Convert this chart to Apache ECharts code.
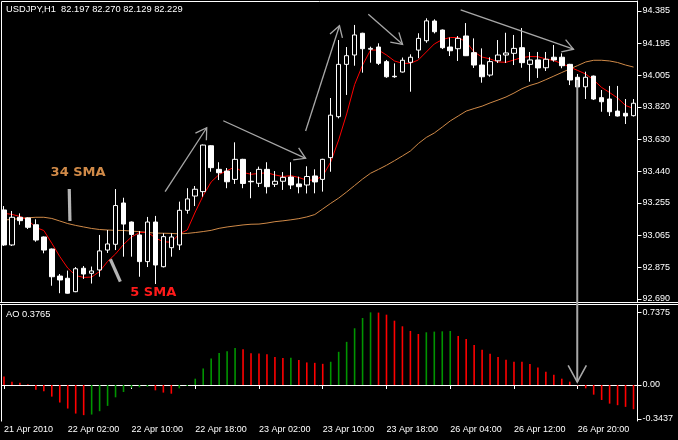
<!DOCTYPE html>
<html><head><meta charset="utf-8">
<script src="https://cdn.jsdelivr.net/npm/echarts@6/dist/echarts.min.js"></script>
<style>html,body{margin:0;padding:0;background:#000;overflow:hidden}#c{width:678px;height:440px}</style>
</head><body><div id="c"></div>
<script>
// ---------- data ----------
const categories = [
'21 Apr 18:00','21 Apr 19:00','21 Apr 20:00','21 Apr 21:00','21 Apr 22:00','21 Apr 23:00',
'22 Apr 00:00','22 Apr 01:00','22 Apr 02:00','22 Apr 03:00','22 Apr 04:00','22 Apr 05:00','22 Apr 06:00','22 Apr 07:00',
'22 Apr 08:00','22 Apr 09:00','22 Apr 10:00','22 Apr 11:00','22 Apr 12:00','22 Apr 13:00','22 Apr 14:00','22 Apr 15:00',
'22 Apr 16:00','22 Apr 17:00','22 Apr 18:00','22 Apr 19:00','22 Apr 20:00','22 Apr 21:00','22 Apr 22:00','22 Apr 23:00',
'23 Apr 00:00','23 Apr 01:00','23 Apr 02:00','23 Apr 03:00','23 Apr 04:00','23 Apr 05:00','23 Apr 06:00','23 Apr 07:00',
'23 Apr 08:00','23 Apr 09:00','23 Apr 10:00','23 Apr 11:00','23 Apr 12:00','23 Apr 13:00','23 Apr 14:00','23 Apr 15:00',
'23 Apr 16:00','23 Apr 17:00','23 Apr 18:00','23 Apr 19:00','23 Apr 20:00','23 Apr 21:00',
'26 Apr 00:00','26 Apr 01:00','26 Apr 02:00','26 Apr 03:00','26 Apr 04:00','26 Apr 05:00','26 Apr 06:00','26 Apr 07:00',
'26 Apr 08:00','26 Apr 09:00','26 Apr 10:00','26 Apr 11:00','26 Apr 12:00','26 Apr 13:00','26 Apr 14:00','26 Apr 15:00',
'26 Apr 16:00','26 Apr 17:00','26 Apr 18:00','26 Apr 19:00','26 Apr 20:00','26 Apr 21:00','26 Apr 22:00','26 Apr 23:00',
'27 Apr 00:00','27 Apr 01:00','27 Apr 02:00','27 Apr 03:00'];
const xTickLabels = ['21 Apr 2010','22 Apr 02:00','22 Apr 10:00','22 Apr 18:00','23 Apr 02:00','23 Apr 10:00','23 Apr 18:00','26 Apr 04:00','26 Apr 12:00','26 Apr 20:00'];
const priceTickLabels = ['94.385','94.195','94.005','93.820','93.630','93.440','93.255','93.065','92.875','92.690'];
const aoTickLabels = ['0.7375','0.00','-0.3437'];
const titleText = 'USDJPY,H1  82.197 82.270 82.129 82.229';
const aoTitle = 'AO 0.3765';

const opens = [93.214,93.008,93.171,93.167,93.127,93.055,92.984,92.825,92.812,92.733,
92.871,92.841,92.861,92.978,93.012,93.255,93.143,93.067,92.910,93.143,
92.880,92.992,93.008,93.212,93.296,93.322,93.592,93.453,93.443,93.394,
93.512,93.383,93.371,93.453,93.365,93.383,93.408,93.367,93.361,93.414,
93.394,93.522,93.763,94.071,94.126,94.254,94.160,94.173,94.087,94.001,
94.026,94.083,94.155,94.210,94.326,94.273,94.173,94.163,94.238,94.140,
94.067,94.008,94.092,94.126,94.136,94.169,94.071,94.097,94.051,94.113,
94.113,94.071,93.995,93.939,94.002,93.875,93.867,93.796,93.783,93.769];
const highs = [93.237,93.208,93.194,93.170,93.159,93.058,92.987,92.837,92.857,92.878,
92.884,92.881,93.067,93.096,93.337,93.286,93.146,93.090,93.173,93.179,
93.077,93.077,93.263,93.342,93.355,93.599,93.595,93.495,93.461,93.612,
93.515,93.437,93.469,93.495,93.443,93.437,93.495,93.410,93.471,93.453,
93.515,93.873,94.214,94.173,94.303,94.257,94.175,94.195,94.097,94.077,
94.111,94.130,94.254,94.342,94.336,94.276,94.229,94.238,94.314,94.224,
94.165,94.113,94.214,94.257,94.244,94.285,94.144,94.144,94.144,94.185,
94.136,94.074,94.014,94.028,94.005,93.920,93.944,93.944,93.867,93.867];
const lows = [93.002,93.002,93.127,93.102,93.027,92.959,92.768,92.724,92.722,92.730,
92.808,92.781,92.821,92.961,92.978,92.939,92.939,92.821,92.878,92.778,
92.876,92.939,92.978,93.192,93.237,93.292,93.439,93.390,93.342,93.367,
93.342,93.283,93.349,93.311,93.349,93.332,93.337,93.312,93.311,93.312,
93.322,93.439,93.753,93.891,94.063,94.022,94.081,94.067,93.992,93.992,
94.023,93.910,94.107,94.198,94.253,94.161,94.120,94.091,94.120,94.050,
93.963,93.998,94.079,94.079,94.067,94.051,93.969,93.991,94.032,94.087,
94.048,93.949,93.910,93.867,93.861,93.792,93.767,93.764,93.720,93.764];
const closes = [93.008,93.171,93.151,93.112,93.037,92.978,92.821,92.802,92.724,92.868,
92.837,92.855,92.973,93.014,93.240,93.131,93.070,92.910,93.143,92.890,
93.057,93.055,93.212,93.279,93.336,93.596,93.463,93.433,93.380,93.512,
93.370,93.380,93.453,93.351,93.383,93.406,93.361,93.351,93.411,93.379,
93.512,93.772,94.071,94.122,94.244,94.163,94.165,94.077,93.998,93.998,
94.095,94.113,94.224,94.327,94.263,94.169,94.151,94.224,94.122,94.067,
93.998,94.087,94.126,94.138,94.165,94.081,94.097,94.050,94.101,94.097,
94.063,93.979,93.938,93.995,93.867,93.851,93.792,93.767,93.767,93.842];
const sma5 = [93.194,93.188,93.176,93.155,93.111,93.093,93.018,92.940,92.872,92.828,
92.817,92.819,92.852,92.911,92.955,93.011,93.055,93.081,93.084,93.049,
93.027,93.024,93.073,93.096,93.202,93.299,93.379,93.423,93.446,93.467,
93.435,93.424,93.429,93.433,93.420,93.411,93.416,93.405,93.389,93.390,
93.414,93.496,93.626,93.779,93.952,94.067,94.155,94.155,94.126,94.091,
94.077,94.077,94.097,94.144,94.191,94.217,94.229,94.229,94.203,94.144,
94.114,94.103,94.085,94.083,94.097,94.111,94.117,94.116,94.103,94.093,
94.076,94.055,94.035,94.014,93.979,93.935,93.905,93.873,93.829,93.811];
const sma34 = [93.155,93.158,93.164,93.168,93.171,93.171,93.164,93.149,93.134,93.123,
93.114,93.105,93.099,93.096,93.094,93.093,93.090,93.086,93.081,93.078,
93.077,93.076,93.073,93.076,93.081,93.087,93.094,93.106,93.114,93.120,
93.126,93.130,93.131,93.137,93.145,93.150,93.156,93.163,93.173,93.187,
93.220,93.253,93.284,93.320,93.358,93.396,93.430,93.453,93.477,93.504,
93.532,93.561,93.605,93.641,93.667,93.702,93.738,93.767,93.796,93.811,
93.825,93.844,93.861,93.879,93.902,93.928,93.947,93.961,93.981,94.002,
94.023,94.044,94.064,94.085,94.095,94.095,94.091,94.082,94.067,94.055];
const ao = [0.087,0.034,0.024,0.007,-0.047,-0.064,-0.118,-0.178,-0.239,-0.290,
-0.306,-0.300,-0.266,-0.212,-0.125,-0.071,-0.027,-0.024,-0.017,-0.054,
-0.077,-0.088,-0.034,-0.010,0.064,0.168,0.270,0.326,0.343,0.3765,
0.364,0.323,0.320,0.313,0.283,0.273,0.276,0.253,0.229,0.225,
0.215,0.236,0.337,0.438,0.576,0.680,0.7375,0.735,0.714,0.653,
0.596,0.549,0.518,0.535,0.542,0.545,0.548,0.498,0.468,0.407,
0.357,0.316,0.283,0.256,0.236,0.235,0.212,0.178,0.135,0.104,
0.064,0.034,-0.005,-0.034,-0.098,-0.152,-0.189,-0.205,-0.222,-0.246];

// annotations in data coordinates: [pane, barIndex, value]
const arrowLines = [
  {from:[0,20.22,93.3215], to:[0,25.44,93.698]},
  {from:[0,27.52,93.739], to:[0,37.85,93.518]},
  {from:[0,37.85,93.679], to:[0,42.10,94.298]},
  {from:[0,45.72,94.366], to:[0,50.02,94.189]},
  {from:[0,57.31,94.391], to:[0,71.47,94.160]},
  {from:[0,71.94,93.979], to:[1,71.94,0.030], big:true}
];
const pointerBars = [
  {from:[0,8.19,93.337], to:[0,8.275,93.149]},
  {from:[0,13.35,92.924], to:[0,14.60,92.792]}
];
const noteLabels = [
  {text:'34 SMA', at:[0,5.85,93.432], color:'#d08a48'},
  {text:'5 SMA', at:[0,15.85,92.728], color:'#ff1a1a'}
];

// ---------- chart ----------
const FONT = '"Liberation Sans", Arial, sans-serif';
const chart = echarts.init(document.getElementById('c'), null, {renderer:'canvas'});
const priceMin = 92.6723, priceMax = 94.4439;
const aoMin = -0.3655, aoMax = 0.8122;
const findLabel = (arr, v) => { let best = arr[0], d = 1e9; arr.forEach(s => { const e = Math.abs(parseFloat(s) - v); if (e < d) { d = e; best = s; } }); return best; };

const option = {
  backgroundColor:'#000',
  animation:false,
  grid:[
    {left:-2.5, top:1, width:640, height:301},
    {left:-2.5, top:305, width:640, height:116}
  ],
  xAxis:[
    {type:'category', gridIndex:0, data:categories, show:false, boundaryGap:true},
    {type:'category', gridIndex:1, data:categories, boundaryGap:true,
     axisLine:{show:true, lineStyle:{color:'#fff', width:1}},
     axisTick:{show:true, interval:7, alignWithLabel:true, length:4, lineStyle:{color:'#fff'}},
     axisLabel:{interval:7, align:'left', margin:4, color:'#fff', fontSize:9, fontFamily:FONT,
       formatter:(v, i) => xTickLabels[Math.round(i/8)] || ''},
     splitLine:{show:false}}
  ],
  yAxis:[
    {type:'value', gridIndex:0, position:'right', min:priceMin, max:priceMax, scale:true,
     axisLine:{show:true, lineStyle:{color:'#fff'}},
     axisTick:{show:true, length:4, lineStyle:{color:'#fff'}, customValues: priceTickLabels.map(parseFloat)},
     axisLabel:{show:true, color:'#fff', fontSize:9, fontFamily:FONT, margin:5,
       customValues: priceTickLabels.map(parseFloat), formatter:v => findLabel(priceTickLabels, v)},
     splitLine:{show:false}},
    {type:'value', gridIndex:1, position:'right', min:aoMin, max:aoMax,
     axisLine:{show:true, lineStyle:{color:'#fff'}},
     axisTick:{show:true, length:4, lineStyle:{color:'#fff'}, customValues: aoTickLabels.map(parseFloat)},
     axisLabel:{show:true, color:'#fff', fontSize:9, fontFamily:FONT, margin:5,
       customValues: aoTickLabels.map(parseFloat), formatter:v => findLabel(aoTickLabels, v)},
     splitLine:{show:false}}
  ],
  series:[
    {type:'line', name:'34 SMA', xAxisIndex:0, yAxisIndex:0, data:sma34, showSymbol:false, symbol:'none',
     lineStyle:{color:'#d08a48', width:1}, z:1, silent:true},
    {type:'line', name:'5 SMA', xAxisIndex:0, yAxisIndex:0, data:sma5, showSymbol:false, symbol:'none',
     lineStyle:{color:'#ff0000', width:1}, z:1, silent:true},
    {type:'candlestick', xAxisIndex:0, yAxisIndex:0, barWidth:5, z:3,
     data: categories.map((_, i) => [opens[i], closes[i], lows[i], highs[i]]),
     itemStyle:{color:'#000', color0:'#fff', borderColor:'#fff', borderColor0:'#fff', borderWidth:1}},
    {type:'bar', xAxisIndex:1, yAxisIndex:1, data:ao, barWidth:1.6, z:3,
     itemStyle:{color: p => (p.dataIndex === 0 || ao[p.dataIndex] < ao[p.dataIndex-1]) ? '#ff0000' : '#009400'}}
  ]
};
chart.setOption(option);

function px(pt) {
  const g = pt[0], idx = pt[1], val = pt[2];
  const i0 = Math.min(Math.floor(idx), categories.length - 2), f = idx - i0;
  const a = chart.convertToPixel({gridIndex:g}, [i0, val]);
  const b = chart.convertToPixel({gridIndex:g}, [i0 + 1, val]);
  return [a[0] + (b[0] - a[0]) * f, a[1]];
}
const gfx = [];
// frames
gfx.push({type:'line', z:200, shape:{x1:1.5,y1:1.5,x2:637.5,y2:1.5}, style:{stroke:'#fff', lineWidth:1}});
gfx.push({type:'line', z:200, shape:{x1:1.5,y1:1.5,x2:1.5,y2:302.5}, style:{stroke:'#fff', lineWidth:1}});
gfx.push({type:'line', z:200, shape:{x1:1.5,y1:304.5,x2:1.5,y2:421.5}, style:{stroke:'#fff', lineWidth:1}});
gfx.push({type:'rect', z:190, shape:{x:0,y:302,width:678,height:3}, style:{fill:'#000'}});
gfx.push({type:'line', z:200, shape:{x1:0,y1:302.5,x2:678,y2:302.5}, style:{stroke:'#fff', lineWidth:1}});
gfx.push({type:'line', z:200, shape:{x1:0,y1:304.5,x2:678,y2:304.5}, style:{stroke:'#fff', lineWidth:1}});
gfx.push({type:'rect', z:190, shape:{x:0,y:0,width:1,height:440}, style:{fill:'#000'}});
// texts
gfx.push({type:'text', z:200, style:{text:titleText, x:6, y:9.5, fill:'#fff', font:'9.3px ' + FONT, verticalAlign:'middle', align:'left'}});
gfx.push({type:'text', z:200, style:{text:aoTitle, x:6, y:314, fill:'#fff', font:'9.3px ' + FONT, verticalAlign:'middle', align:'left'}});
noteLabels.forEach(l => {
  const p = px(l.at);
  gfx.push({type:'text', z:150, style:{text:l.text, x:p[0], y:p[1], fill:l.color, font:'bold 13px "DejaVu Sans", sans-serif', verticalAlign:'middle', align:'left'}});
});
pointerBars.forEach(b => {
  const a = px(b.from), c = px(b.to);
  gfx.push({type:'line', z:150, shape:{x1:a[0],y1:a[1],x2:c[0],y2:c[1]}, style:{stroke:'#b4b4b4', lineWidth:3.2}});
});
arrowLines.forEach(ar => {
  const a = px(ar.from), t = px(ar.to);
  const ang = Math.atan2(a[1] - t[1], a[0] - t[0]);
  const len = ar.big ? 19 : 12.5, spread = ar.big ? 0.5 : 0.55;
  const h1 = [t[0] + len*Math.cos(ang+spread), t[1] + len*Math.sin(ang+spread)];
  const h2 = [t[0] + len*Math.cos(ang-spread), t[1] + len*Math.sin(ang-spread)];
  const col = '#a8a8a8', w = ar.big ? 2 : 1.3;
  gfx.push({type:'line', z:210, shape:{x1:a[0],y1:a[1],x2:t[0],y2:t[1]}, style:{stroke:col, lineWidth:w}});
  gfx.push({type:'polyline', z:210, shape:{points:[h1, t, h2]}, style:{stroke:col, lineWidth:ar.big ? 1.6 : 1.3, fill:null}});
});
chart.setOption({graphic:{elements:gfx}});
</script></body></html>
